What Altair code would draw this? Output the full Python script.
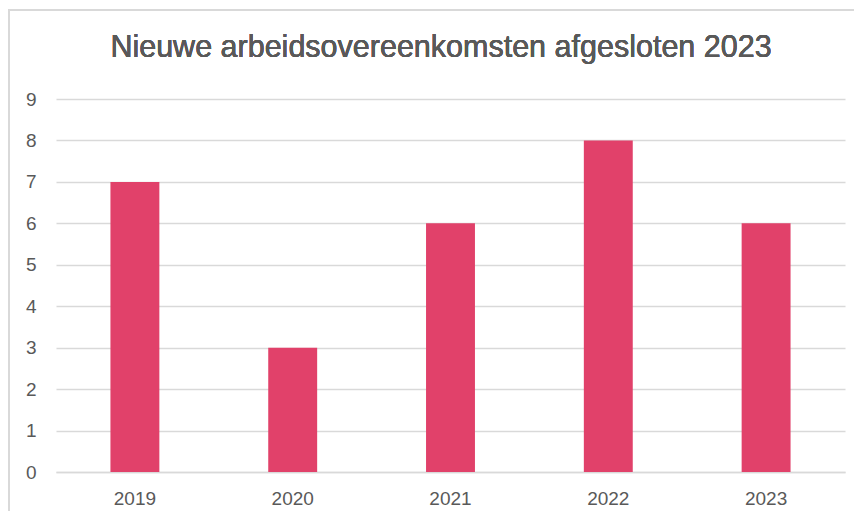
import altair as alt
import pandas as pd

years = ["2019", "2020", "2021", "2022", "2023"]
values = [7, 3, 6, 8, 6]
title_text = "Nieuwe arbeidsovereenkomsten  afgesloten 2023"

df = pd.DataFrame({"jaar": years, "aantal": values})

FONT = "Liberation Sans, sans-serif"
GRAY = "#595959"
GRID = "#d9d9d9"

bars = alt.Chart(df).mark_bar(color="#E1416A").encode(
    x=alt.X("jaar:N", sort=years, title=None,
            scale=alt.Scale(paddingInner=0.69, paddingOuter=0.345),
            axis=alt.Axis(labelAngle=0, labelFont=FONT, labelFontSize=19,
                          labelColor=GRAY, ticks=False, labelPadding=17, grid=False,
                          domainColor=GRID, domainWidth=1.5)),
    y=alt.Y("aantal:Q", title=None,
            scale=alt.Scale(domain=[0, 9]),
            axis=alt.Axis(values=list(range(10)), labelFont=FONT, labelFontSize=19,
                          labelColor=GRAY, ticks=False, domain=False, grid=True,
                          labelPadding=20, gridColor=GRID, gridWidth=1.5)),
)

border = alt.Chart(df).mark_rect(fill=None, stroke=GRID, strokeWidth=1.5, clip=False).encode(
    x=alt.value(-47), x2=alt.value(830), y=alt.value(-89), y2=alt.value(440)
)

title = alt.Chart(df).mark_text(font=FONT, fontSize=30.5, color=GRAY,
                                baseline="middle", align="center").encode(
    x=alt.value(385), y=alt.value(-51), text=alt.value(title_text)
)

chart = alt.layer(border, bars, title).properties(
    width=789, height=373,
    padding={"left": 48, "top": 91, "right": 9, "bottom": 39},
    autosize="none",
).configure_view(stroke=None)

chart.save("out.html", embed_options={"renderer": "svg", "actions": False})
